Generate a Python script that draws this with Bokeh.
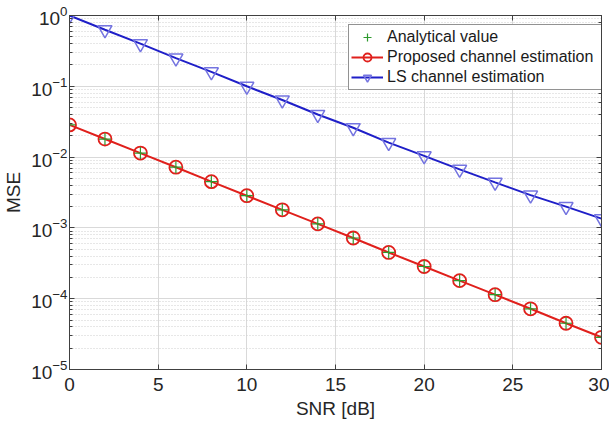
from bokeh.plotting import figure
from bokeh.models import Legend, LegendItem, LinearAxis, LogAxis, FixedTicker, Range1d, CustomJSTickFormatter
from bokeh.embed import file_html
from bokeh.resources import INLINE

snr = [0, 2, 4, 6, 8, 10, 12, 14, 16, 18, 20, 22, 24, 26, 28, 30]
ls_mse = [1.0, 0.63, 0.40, 0.25, 0.16, 0.10, 0.064, 0.040, 0.026, 0.016,
          0.0104, 0.0067, 0.0044, 0.0029, 0.0020, 0.00135]
proposed_mse = [0.0285, 0.018, 0.0114, 0.0072, 0.0045, 0.00285, 0.0018, 0.00114,
                0.00072, 0.00045, 0.000285, 0.00018, 0.000114, 7.2e-5, 4.5e-5, 2.85e-5]
analytical_mse = [0.0285, 0.018, 0.0114, 0.0072, 0.0045, 0.00285, 0.0018, 0.00114,
                  0.00072, 0.00045, 0.000285, 0.00018, 0.000114, 7.2e-5, 4.5e-5, 2.85e-5]
x_ticks = [0, 5, 10, 15, 20, 25, 30]

FONT = "Liberation Sans"
AX = "#404040"
TXT = "#262626"

p = figure(width=609, height=427, output_backend="svg", toolbar_location=None,
           y_axis_type="log", x_range=Range1d(0, 30), y_range=Range1d(1e-5, 1),
           min_border_left=60, min_border_right=8, min_border_top=15, min_border_bottom=58,
           background_fill_color="white", border_fill_color="white")
p.outline_line_color = AX
p.outline_line_width = 1

# grids
p.xgrid.grid_line_color = "#d9d9d9"
p.xgrid.grid_line_width = 1
p.ygrid.grid_line_color = "#d9d9d9"
p.ygrid.grid_line_width = 1
p.ygrid.minor_grid_line_color = "#cfcfcf"
p.ygrid.minor_grid_line_dash = "1 2"
p.ygrid.minor_grid_line_width = 1

p.xaxis.ticker = FixedTicker(ticks=x_ticks)
p.xgrid.ticker = FixedTicker(ticks=x_ticks)

def style_axis(ax):
    ax.axis_line_color = AX
    ax.major_tick_line_color = AX
    ax.minor_tick_line_color = AX
    ax.major_tick_in = 5
    ax.major_tick_out = 0
    ax.minor_tick_in = 3
    ax.minor_tick_out = 0
    ax.major_label_text_font = FONT
    ax.major_label_text_font_size = "19px"
    ax.major_label_text_color = TXT
    ax.axis_label_text_font = FONT
    ax.axis_label_text_font_size = "19px"
    ax.axis_label_text_font_style = "normal"
    ax.axis_label_text_color = TXT

for ax in p.xaxis:
    style_axis(ax)
    ax.axis_label = "SNR [dB]"
    ax.axis_label_standoff = 4
    ax.major_label_standoff = 8
    ax.minor_tick_in = 0
for ax in p.yaxis:
    style_axis(ax)
    ax.axis_label = "MSE"
    ax.axis_label_standoff = 4
    ax.major_label_standoff = 2

blank = CustomJSTickFormatter(code="return '';")
top = LinearAxis(ticker=FixedTicker(ticks=x_ticks), formatter=blank)
style_axis(top)
top.minor_tick_in = 0
top.major_label_standoff = 0
p.add_layout(top, "above")
right = LogAxis(formatter=CustomJSTickFormatter(code="return '';"))
style_axis(right)
right.major_label_standoff = 0
p.add_layout(right, "right")

BLUE_L = "#1f1fc8"
BLUE_M = "#7474e0"
RED = "#e0201c"
GREEN = "#2e9a2e"

ls_line = p.line(snr, ls_mse, line_color=BLUE_L, line_width=2)
pr_line = p.line(snr, proposed_mse, line_color=RED, line_width=2)
ls_mk = p.scatter(snr, ls_mse, marker="inverted_triangle", size=14, fill_color=None,
                  line_color=BLUE_M, line_width=1.5)
pr_mk = p.scatter(snr, proposed_mse, marker="circle", size=13, fill_color=None,
                  line_color=RED, line_width=1.8)
an_mk = p.scatter(snr, analytical_mse, marker="cross", size=12, line_color=GREEN, line_width=1.2)

legend = Legend(items=[
    LegendItem(label="Analytical value", renderers=[an_mk]),
    LegendItem(label="Proposed channel estimation", renderers=[pr_line, pr_mk]),
    LegendItem(label="LS channel estimation", renderers=[ls_line, ls_mk]),
], location=(279, 279))
legend.label_text_font = FONT
legend.label_text_font_size = "16px"
legend.label_text_color = "#1a1a1a"
legend.border_line_color = "#262626"
legend.border_line_width = 1
legend.background_fill_alpha = 1
legend.padding = 2
legend.spacing = 0
legend.margin = 0
legend.label_height = 20
legend.glyph_height = 20
legend.glyph_width = 32
legend.label_width = 212
legend.label_standoff = 4
p.add_layout(legend, "center")

open("out.html", "w").write(file_html(p, INLINE))
